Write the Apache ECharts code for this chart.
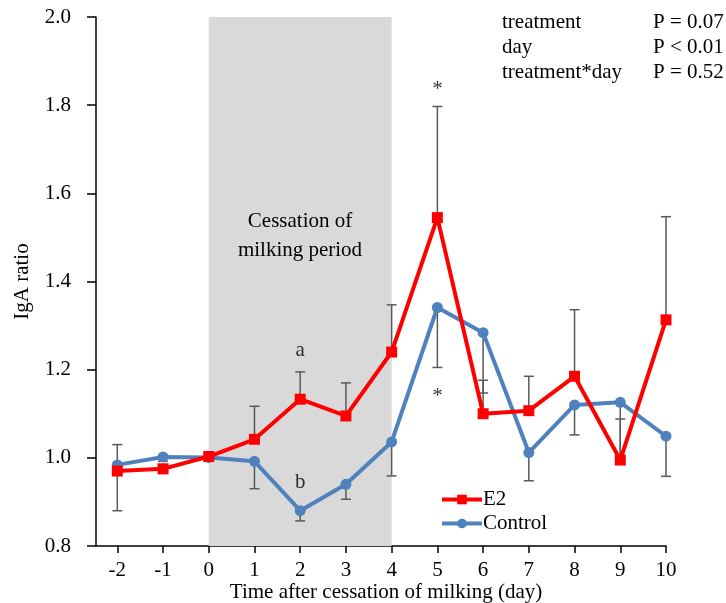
<!DOCTYPE html>
<html lang="en">
<head>
  <meta charset="UTF-8">
  <title>IgA ratio</title>
  <style>
    html, body { margin: 0; padding: 0; background: #fff; }
    #chart { width: 726px; height: 603px; }
  </style>
  <script src="https://cdn.jsdelivr.net/npm/echarts@6/dist/echarts.min.js"></script>
</head>
<body>
<div id="chart"></div>
<script>
  // data
  var days = [-2, -1, 0, 1, 2, 3, 4, 5, 6, 7, 8, 9, 10];
  var e2 = [0.970, 0.975, 1.003, 1.042, 1.133, 1.095, 1.240, 1.545, 1.100, 1.107, 1.185, 0.995, 1.313];
  var e2Err = [0.060, 0.010, 0.005, 0.075, 0.062, 0.075, 0.107, 0.252, 0.076, 0.078, 0.151, 0.093, 0.234];
  var control = [0.984, 1.002, 1.001, 0.992, 0.880, 0.940, 1.036, 1.341, 1.284, 1.012, 1.120, 1.126, 1.049];
  var controlErr = [0.104, 0.010, 0.005, 0.062, 0.023, 0.034, 0.077, 0.136, 0.137, 0.064, 0.068, 0.130, 0.091];
  var yTicks = [0.8, 1.0, 1.2, 1.4, 1.6, 1.8, 2.0];
  var period = [0, 4];
  var stats = [['treatment', 'P = 0.07'], ['day', 'P < 0.01'], ['treatment*day', 'P = 0.52']];
  var notes = [['a', 2, 1.244], ['b', 2, 0.943], ['*', 5, 1.835], ['*', 5, 1.14]];
  var xTitle = 'Time after cessation of milking (day)';

  var font = "'Liberation Serif', 'Times New Roman', serif";
  var fs = 21;
  var chart = echarts.init(document.getElementById('chart'));

  function pairs(vals) {
    return days.map(function (d, i) { return [d, vals[i]]; });
  }
  function errData(vals, errs, sign) {
    return days.map(function (d, i) { return [d, vals[i], sign * errs[i]]; });
  }

  function errorBar(params, api) {
    var x = api.value(0), y = api.value(1), e = api.value(2);
    var p0 = api.coord([x, y]);
    var p1 = api.coord([x, y + e]);
    var st = { stroke: '#5a5a5a', lineWidth: 1.5 };
    return {
      type: 'group',
      children: [
        { type: 'line', shape: { x1: p0[0], y1: p0[1], x2: p1[0], y2: p1[1] }, style: st },
        { type: 'line', shape: { x1: p1[0] - 5, y1: p1[1], x2: p1[0] + 5, y2: p1[1] }, style: st }
      ]
    };
  }

  function label(text, x, y, align) {
    return { type: 'text', x: x, y: y, z: 100,
      style: { text: text, font: fs + 'px ' + font, fill: '#000', align: align, verticalAlign: 'middle' } };
  }

  var graphics = [];
  stats.forEach(function (s, i) {
    graphics.push(label(s[0], 502, 22 + i * 25, 'left'));
    graphics.push(label(s[1], 653, 22 + i * 25, 'left'));
  });
  graphics.push(label('Cessation of', 300, 221, 'center'));
  graphics.push(label('milking period', 300, 250, 'center'));
  graphics.push(label(xTitle, 386, 592, 'center'));

  var option = {
    animation: false,
    textStyle: { fontFamily: font },
    grid: { left: 96, right: 60, top: 17, bottom: 57, outerBoundsMode: 'none' },
    legend: {
      orient: 'vertical',
      left: 435,
      top: 484,
      itemWidth: 40,
      itemHeight: 12,
      itemGap: 3,
      data: ['E2', 'Control'],
      lineStyle: { width: 4 },
      textStyle: { fontFamily: font, fontSize: fs, color: '#000', padding: [0, 0, 0, -4] }
    },
    xAxis: {
      type: 'value',
      min: -2.466,
      max: 10,
      axisLine: { onZero: false, lineStyle: { color: '#000', width: 1.5 } },
      axisTick: { customValues: days, length: 7, lineStyle: { color: '#000', width: 1.5 } },
      axisLabel: { customValues: days, margin: 14, fontFamily: font, fontSize: fs, color: '#000' },
      splitLine: { show: false }
    },
    yAxis: {
      type: 'value',
      min: 0.8,
      max: 2.0,
      interval: 0.2,
      name: 'IgA ratio',
      nameLocation: 'middle',
      nameGap: 63,
      nameRotate: 90,
      nameTextStyle: { fontFamily: font, fontSize: fs, color: '#000' },
      axisLine: { show: true, onZero: false, lineStyle: { color: '#000', width: 1.5 } },
      axisTick: { show: true, inside: false, customValues: yTicks, length: 9, lineStyle: { color: '#000', width: 1.5 } },
      axisLabel: { customValues: yTicks, margin: 25, fontFamily: font, fontSize: fs, color: '#000',
        formatter: function (v) { return v.toFixed(1); } },
      splitLine: { show: false }
    },
    graphic: graphics,
    series: [
      {
        type: 'custom',
        name: 'e2err',
        z: 1,
        renderItem: errorBar,
        data: errData(e2, e2Err, 1),
        markArea: {
          silent: true,
          itemStyle: { color: '#d9d9d9' },
          data: [[{ xAxis: period[0], yAxis: 0.8 }, { xAxis: period[1], yAxis: 2.0 }]]
        }
      },
      {
        type: 'custom',
        name: 'ctrlerr',
        z: 1,
        renderItem: errorBar,
        data: errData(control, controlErr, -1)
      },
      {
        name: 'Control',
        type: 'line',
        z: 2,
        data: pairs(control),
        symbol: 'circle',
        symbolSize: 11,
        color: '#4f81bd',
        lineStyle: { width: 4, color: '#4f81bd' },
        itemStyle: { color: '#4f81bd' }
      },
      {
        name: 'E2',
        type: 'line',
        z: 3,
        data: pairs(e2),
        symbol: 'rect',
        symbolSize: 11,
        color: '#ff0000',
        lineStyle: { width: 4, color: '#ff0000' },
        itemStyle: { color: '#ff0000' }
      },
      {
        name: 'notes',
        type: 'scatter',
        z: 4,
        silent: true,
        symbolSize: 1,
        itemStyle: { color: 'rgba(0,0,0,0)' },
        label: { show: true, position: 'inside', fontFamily: font, fontSize: fs, color: '#000',
          formatter: function (p) { return p.data.name; } },
        data: notes.map(function (n) { return { name: n[0], value: [n[1], n[2]] }; })
      }
    ]
  };
  chart.setOption(option);
</script>
</body>
</html>
